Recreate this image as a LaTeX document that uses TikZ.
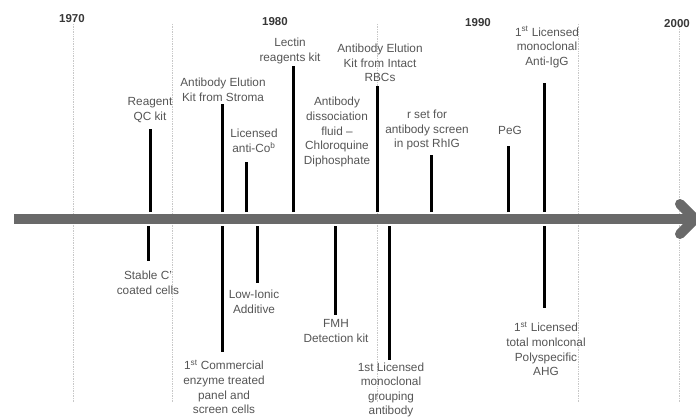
\documentclass[tikz,border=0pt]{standalone}
\usepackage{fontspec}
\setmainfont{Liberation Sans}
\usetikzlibrary{positioning}
\definecolor{tltext}{RGB}{85,85,85}
\definecolor{tlyear}{RGB}{55,55,55}
\definecolor{tlaxis}{RGB}{105,105,105}
\definecolor{tlgrid}{RGB}{200,200,200}

\begin{document}
\begin{tikzpicture}[x=1pt, y=-1pt,
    event/.style={align=center, text=tltext, inner sep=0pt, font=\fontsize{11.8}{14.6}\selectfont},
    year/.style={inner sep=0pt, text=tlyear, font=\bfseries\fontsize{11.5}{12}\selectfont},
    stem/.style={line width=3pt, black},
    gridline/.style={densely dotted, tlgrid, line width=0.7pt},
    axisline/.style={line width=10pt, tlaxis}
  ]
  \useasboundingbox (0,0) rectangle (696,420);

  % decade grid
  \foreach \gx in {73,172,377,578,679}
    \draw[gridline] (\gx,24) -- (\gx,403);
  \node[year] (y1970) at (72,19) {1970};
  \node[year] (y1980) at (275,22) {1980};
  \node[year] (y1990) at (478,23) {1990};
  \node[year] (y2000) at (677,24) {2000};

  % events above the axis
  \node[event] (qc) at (150,110) {Reagent\\QC kit};
  \coordinate (qcTop) at (150,129);
  \coordinate (qcAx) at (150,212);
  \draw[stem] (qcAx) -- (qcTop);

  \node[event] (stroma) at (223,90) {Antibody Elution\\Kit from Stroma};
  \coordinate (stromaTop) at (222,104);
  \coordinate (stromaAx) at (222,212);
  \draw[stem] (stromaAx) -- (stromaTop);

  \node[event] (cob) at (254,141) {Licensed\\anti-Co$^{\mathrm{b}}$};
  \coordinate (cobTop) at (246,162);
  \coordinate (cobAx) at (246,212);
  \draw[stem] (cobAx) -- (cobTop);

  \node[event] (lectin) at (290,51) {Lectin\\reagents kit};
  \coordinate (lectinTop) at (293,66);
  \coordinate (lectinAx) at (293,212);
  \draw[stem] (lectinAx) -- (lectinTop);

  \node[event] (chloro) at (337,132) {Antibody\\dissociation\\fluid --\\Chloroquine\\Diphosphate};

  \node[event] (rbc) at (380,63) {Antibody Elution\\Kit from Intact\\RBCs};
  \coordinate (rbcTop) at (377,86);
  \coordinate (rbcAx) at (377,212);
  \draw[stem] (rbcAx) -- (rbcTop);

  \node[event] (rhig) at (427,130) {r set for\\antibody screen\\in post RhIG};
  \coordinate (rhigTop) at (431,155);
  \coordinate (rhigAx) at (431,212);
  \draw[stem] (rhigAx) -- (rhigTop);

  \node[event] (peg) at (510,130) {PeG};
  \coordinate (pegTop) at (508,146);
  \coordinate (pegAx) at (508,212);
  \draw[stem] (pegAx) -- (pegTop);

  \node[event] (antiigg) at (547,47) {1$^{\mathrm{st}}$ Licensed\\monoclonal\\Anti-IgG};
  \coordinate (antiiggTop) at (544,83);
  \coordinate (antiiggAx) at (544,212);
  \draw[stem] (antiiggAx) -- (antiiggTop);

  % events below the axis
  \node[event] (stable) at (148,283) {Stable C'\\coated cells};
  \coordinate (stableAx) at (148,226);
  \coordinate (stableBot) at (148,261);
  \draw[stem] (stableAx) -- (stableBot);

  \node[event] (enzyme) at (224,387) {1$^{\mathrm{st}}$ Commercial\\enzyme treated\\panel and\\screen cells};
  \coordinate (enzymeAx) at (222,226);
  \coordinate (enzymeBot) at (222,352);
  \draw[stem] (enzymeAx) -- (enzymeBot);

  \node[event] (liss) at (254,302) {Low-Ionic\\Additive};
  \coordinate (lissAx) at (257,226);
  \coordinate (lissBot) at (257,283);
  \draw[stem] (lissAx) -- (lissBot);

  \node[event] (fmh) at (336,331) {FMH\\Detection kit};
  \coordinate (fmhAx) at (335,226);
  \coordinate (fmhBot) at (335,315);
  \draw[stem] (fmhAx) -- (fmhBot);

  \node[event] (grouping) at (391,390) {1st Licensed\\monoclonal\\grouping\\antibody};
  \coordinate (groupingAx) at (389,226);
  \coordinate (groupingBot) at (389,360);
  \draw[stem] (groupingAx) -- (groupingBot);

  \node[event] (ahg) at (546,349) {1$^{\mathrm{st}}$ Licensed\\total monlconal\\Polyspecific\\AHG};
  \coordinate (ahgAx) at (544,226);
  \coordinate (ahgBot) at (544,308);
  \draw[stem] (ahgAx) -- (ahgBot);

  % time axis
  \coordinate (axStart) at (14,219);
  \coordinate (axEnd) at (692,219);
  \coordinate (tipUp) at (680,204);
  \coordinate (tip) at (695,219);
  \coordinate (tipDown) at (680,234);
  \draw[axisline] (axStart) -- (axEnd);
  \draw[axisline, line cap=round, line join=round] (tipUp) -- (tip) -- (tipDown);
\end{tikzpicture}
\end{document}
